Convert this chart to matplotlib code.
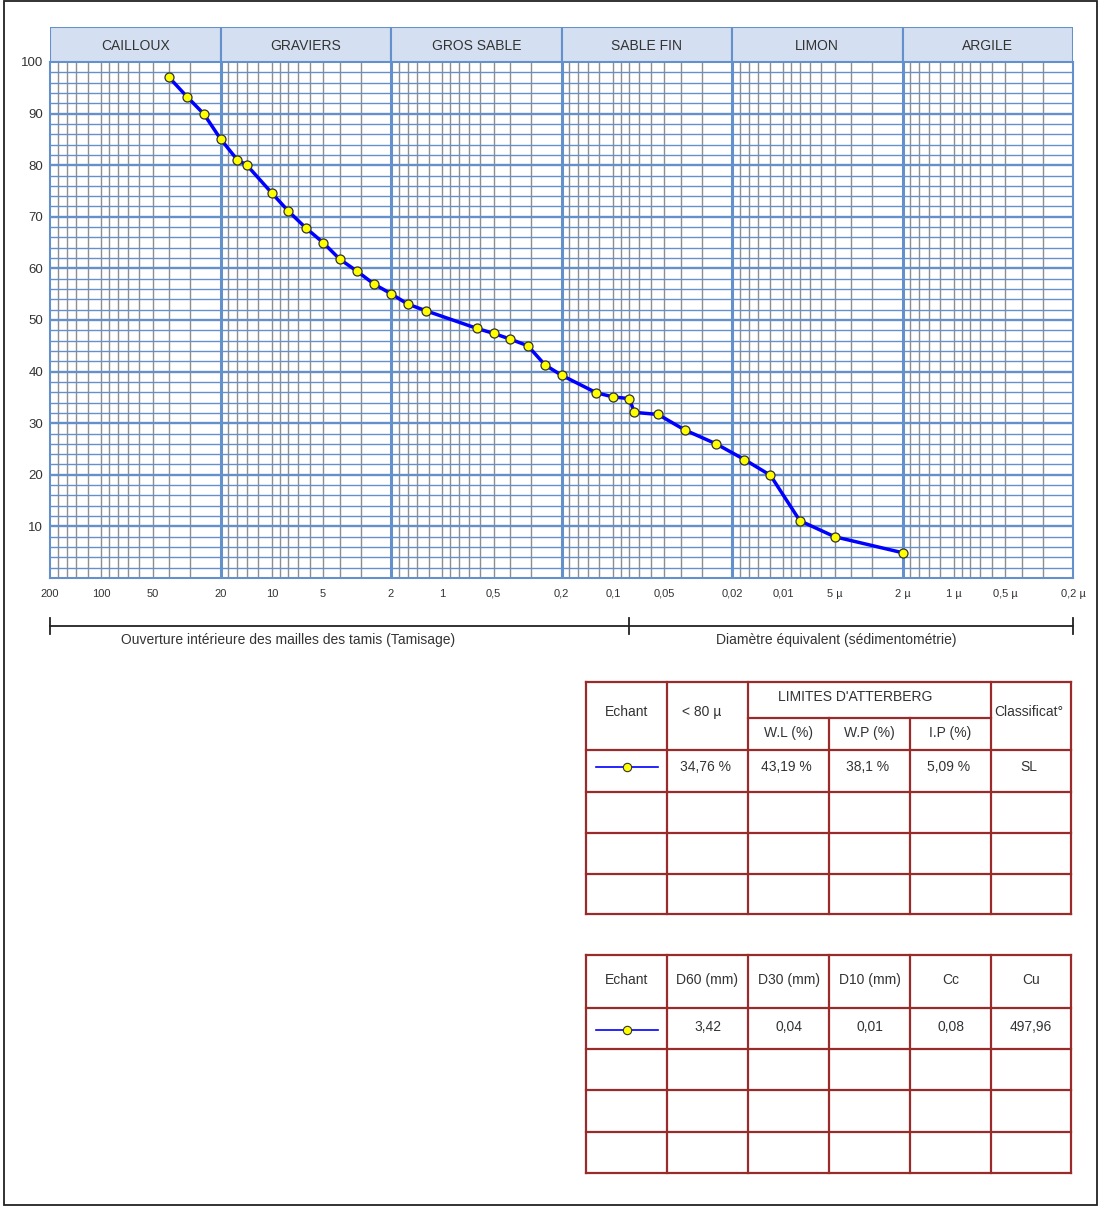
import matplotlib
matplotlib.use("Agg")
import matplotlib.pyplot as plt
from matplotlib.patches import Rectangle
from matplotlib.lines import Line2D

plt.rcParams['font.family'] = ['Liberation Sans', 'DejaVu Sans']

# granulometric curve (mm, % passing)
diam = [40, 31.5, 25, 20, 16, 14, 10, 8, 6.3, 5, 4, 3.15, 2.5, 2, 1.6, 1.25,
        0.63, 0.5, 0.4, 0.315, 0.25, 0.2, 0.125, 0.1, 0.08,
        0.0748, 0.0543, 0.0379, 0.0248, 0.0169, 0.0119, 0.0080, 0.0050, 0.0020]
passing = [97.0, 93.3, 89.9, 85.1, 81.1, 80.0, 74.6, 71.1, 67.8, 65.0, 61.8, 59.4,
           56.9, 55.1, 53.1, 51.8, 48.4, 47.4, 46.3, 45.0, 41.3, 39.3, 35.9, 35.1,
           34.76, 32.1, 31.7, 28.7, 26.0, 22.95, 19.9, 11.1, 8.0, 4.9]

class_names = ['CAILLOUX', 'GRAVIERS', 'GROS SABLE', 'SABLE FIN', 'LIMON', 'ARGILE']
class_bounds = [200, 20, 2, 0.2, 0.02, 0.002, 0.0002]

xtick_vals = [200, 100, 50, 20, 10, 5, 2, 1, 0.5, 0.2, 0.1, 0.05, 0.02, 0.01,
              0.005, 0.002, 0.001, 0.0005, 0.0002]
xtick_labels = ['200', '100', '50', '20', '10', '5', '2', '1', '0,5', '0,2', '0,1',
                '0,05', '0,02', '0,01', '5 µ', '2 µ', '1 µ', '0,5 µ', '0,2 µ']
ytick_vals = [10, 20, 30, 40, 50, 60, 70, 80, 90, 100]
sieve_limit = 0.08

# table contents
atterberg_header = ['Echant', '< 80 µ', "LIMITES D'ATTERBERG", 'Classificat°']
atterberg_sub = ['W.L (%)', 'W.P (%)', 'I.P (%)']
atterberg_row = ['34,76 %', '43,19 %', '38,1 %', '5,09 %', 'SL']
coef_header = ['Echant', 'D60 (mm)', 'D30 (mm)', 'D10 (mm)', 'Cc', 'Cu']
coef_row = ['3,42', '0,04', '0,01', '0,08', '497,96']

W, H = 1099, 1207
BLUE = '#6490cc'
GRAY = '#8e8e8e'
RED = '#9a2b2b'
TXT = '#333333'

fig = plt.figure(figsize=(W / 100, H / 100), dpi=100)

# overlay in pixel coordinates for frame and tables
ov = fig.add_axes([0, 0, 1, 1])
ov.set_xlim(0, W)
ov.set_ylim(H, 0)
ov.axis('off')
ov.add_patch(Rectangle((4, 1), 1093, 1204, fill=False, ec='#222222', lw=1.3))

L, R, T, B = 50, 1073, 62, 578
ax = fig.add_axes([L / W, 1 - B / H, (R - L) / W, (B - T) / H])
ax.set_xscale('log')
ax.set_xlim(class_bounds[0], class_bounds[-1])
ax.set_ylim(0, 100)

# grid
minor_x = []
for k in range(-4, 3):
    for m in [1, 1.2, 1.4, 1.6, 1.8, 3, 4, 5, 6, 7, 8, 9]:
        v = m * 10.0 ** k
        if class_bounds[-1] < v < class_bounds[0]:
            minor_x.append(v)
for v in minor_x:
    ax.axvline(v, color=GRAY, lw=1.0, zorder=1)
for yv in range(2, 100, 2):
    ax.axhline(yv, color=BLUE, lw=1.7 if yv % 10 == 0 else 1.0, zorder=2)
for v in class_bounds[1:-1]:
    ax.axvline(v, color=BLUE, lw=2.2, zorder=3)
for s in ax.spines.values():
    s.set_color(BLUE)
    s.set_linewidth(1.5)

ax.plot(diam, passing, color='#0000ff', lw=2.5, marker='o', ms=6.5,
        mfc='#ffff00', mec='#333333', mew=0.9, zorder=5, clip_on=False)

tr = ax.get_xaxis_transform()
ax.set_xticks([])
ax.xaxis.set_minor_locator(matplotlib.ticker.NullLocator())
for v, s in zip(xtick_vals, xtick_labels):
    ax.text(v, (B - 597) / (B - T), s, transform=tr, ha='center', va='baseline',
            fontsize=8, color=TXT)
ax.set_yticks(ytick_vals)
ax.set_yticklabels([str(v) for v in ytick_vals], fontsize=9.5, color=TXT)
ax.tick_params(axis='y', length=0, pad=5)

# bracket under the axis
yb = (B - 626) / (B - T)
dt = 8 / (B - T)
ax.plot([class_bounds[0], class_bounds[-1]], [yb, yb], color='#222222', lw=1.3,
        transform=tr, clip_on=False)
for v in [class_bounds[0], sieve_limit, class_bounds[-1]]:
    ax.plot([v, v], [yb - dt, yb + dt], color='#222222', lw=1.3,
            transform=tr, clip_on=False)
fig.text(288 / W, 1 - 640 / H, 'Ouverture intérieure des mailles des tamis (Tamisage)',
         ha='center', va='center', fontsize=10, color=TXT)
fig.text(836 / W, 1 - 640 / H, 'Diamètre équivalent (sédimentométrie)',
         ha='center', va='center', fontsize=10, color=TXT)

# class header
hax = fig.add_axes([L / W, 1 - T / H, (R - L) / W, (T - 27) / H])
hax.set_xscale('log')
hax.set_xlim(class_bounds[0], class_bounds[-1])
hax.set_ylim(0, 1)
hax.axis('off')
for i, name in enumerate(class_names):
    hi, lo = class_bounds[i], class_bounds[i + 1]
    hax.axvspan(lo, hi, facecolor='#d4e0f1', edgecolor=BLUE, lw=1.5)
    hax.text((hi * lo) ** 0.5, 0.45, name, ha='center', va='center',
             fontsize=10, color=TXT)

# tables
cols = [586, 667, 748, 829, 910, 991, 1071]


def grid_lines(rows):
    for y in rows:
        ov.add_line(Line2D([cols[0], cols[-1]], [y, y], color=RED, lw=1.6))
    for x in cols:
        ov.add_line(Line2D([x, x], [rows[0], rows[-1]], color=RED, lw=1.6))


def legend_sample(y):
    ov.add_line(Line2D([596, 658], [y, y], color='#0000ff', lw=1.2))
    ov.plot([627], [y], marker='o', ms=6, mfc='#ffff00', mec='#333333', mew=0.8)


rows1 = [682, 750, 792, 833, 874, 914]
for y in rows1:
    ov.add_line(Line2D([cols[0], cols[-1]], [y, y], color=RED, lw=1.6))
for i, x in enumerate(cols):
    top = 718 if i in (3, 4) else rows1[0]
    ov.add_line(Line2D([x, x], [top, rows1[-1]], color=RED, lw=1.6))
ov.add_line(Line2D([cols[2], cols[5]], [718, 718], color=RED, lw=1.6))
ov.text(627, 712, atterberg_header[0], ha='center', va='center', fontsize=10, color=TXT)
ov.text(702, 712, atterberg_header[1], ha='center', va='center', fontsize=10, color=TXT)
ov.text(855, 697, atterberg_header[2], ha='center', va='center', fontsize=10, color=TXT)
ov.text(994, 712, atterberg_header[3], ha='left', va='center', fontsize=10, color=TXT)
for i, s in enumerate(atterberg_sub):
    ov.text((cols[i + 2] + cols[i + 3]) / 2, 733, s, ha='center', va='center',
            fontsize=10, color=TXT)
legend_sample(767)
for i, s in enumerate(atterberg_row):
    ov.text((cols[i + 1] + cols[i + 2]) / 2 - 2, 767, s, ha='center', va='center',
            fontsize=10, color=TXT)

rows2 = [955, 1008, 1049, 1090, 1132, 1173]
grid_lines(rows2)
for i, s in enumerate(coef_header):
    ov.text((cols[i] + cols[i + 1]) / 2, 980, s, ha='center', va='center',
            fontsize=10, color=TXT)
legend_sample(1030)
for i, s in enumerate(coef_row):
    ov.text((cols[i + 1] + cols[i + 2]) / 2, 1027, s, ha='center', va='center',
            fontsize=10, color=TXT)

fig.savefig('out.png', dpi=100)
